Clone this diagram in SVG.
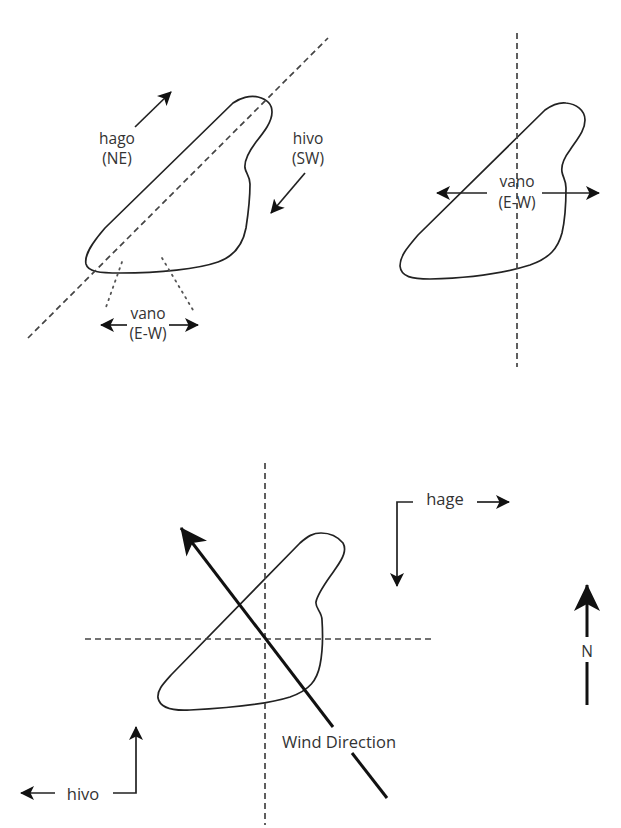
<svg xmlns="http://www.w3.org/2000/svg" width="621" height="828" viewBox="0 0 621 828">
<style>
.bg{fill:#fff}
.outline{fill:none;stroke:#222;stroke-width:1.7;stroke-linejoin:round}
.dash{fill:none;stroke:#444;stroke-width:1.7;stroke-dasharray:6 4}
.dot{fill:none;stroke:#555;stroke-width:1.8;stroke-dasharray:1.5 5;stroke-linecap:round}
.arr{fill:none;stroke:#222;stroke-width:1.7;marker-end:url(#ah)}
.thick{fill:none;stroke:#111;stroke-width:3}
.lbl{font-family:"Open Sans","Liberation Sans",sans-serif;font-size:15.5px;fill:#333;text-anchor:middle}
.big{font-size:16.5px}
</style>
<defs>
<marker id="ah" markerUnits="userSpaceOnUse" markerWidth="16" markerHeight="14" refX="13" refY="7" orient="auto">
<path d="M0,0 L14,7 L0,14 L3.5,7 Z" fill="#111"/>
</marker>
<marker id="big" markerUnits="userSpaceOnUse" markerWidth="30" markerHeight="28" refX="26" refY="14" orient="auto">
<path d="M0,1 L27,14 L0,27 L7,14 Z" fill="#111"/>
</marker>
</defs>
<rect class="bg" x="0" y="0" width="621" height="828"/>

<g id="panel1">
<path class="outline" d="M233,103 C240,98 250,95 258,97 C266,99 272,104 272,112 C272,122 264,132 256,142 C250,150 244,160 245,168 C246,174 250,176 250,184 C250,200 248,215 246,228 C243,244 235,256 218,262 C198,269 160,273 120,273 C100,273 88,272 86,264 C84,255 92,243 105,228 L233,103 Z"/>
<line class="dash" x1="28" y1="338" x2="328" y2="38"/>
<line class="dot" x1="122" y1="262" x2="105" y2="310"/>
<line class="dot" x1="162" y1="258" x2="193" y2="310"/>
</g>

<g id="panel2">
<path class="outline" d="M545,110 C552,105 558,102 566,103 C576,104 585,110 585,120 C585,130 578,138 570,150 C564,158 561,166 562,172 C563,178 566,180 566,188 C566,205 565,220 562,233 C558,248 550,258 530,265 C505,273 470,278 430,279 C412,279 401,277 400,266 C400,256 407,248 418,235 L545,110 Z"/>
<line class="dash" x1="517" y1="33" x2="517" y2="367"/>
</g>

<g id="panel3">
<path class="outline" d="M300,543 C308,536 313,533 321,533 C330,533 338,537 343,543 C347,550 343,558 336,568 C328,580 318,592 316,602 C315,608 322,612 322,620 C323,635 323,650 320,665 C317,680 310,690 290,697 C268,704 230,708 190,710 C172,711 160,708 158,698 C157,690 163,684 172,674 L300,543 Z"/>
<line class="dash" x1="265" y1="463" x2="265" y2="825"/>
<line class="dash" x1="85" y1="639" x2="432" y2="639"/>
</g>

<g id="connectors">
<line class="arr" x1="135" y1="127" x2="171" y2="92"/>
<line class="arr" x1="305" y1="173" x2="271" y2="213"/>
<line class="arr" x1="127" y1="325" x2="101" y2="325"/>
<line class="arr" x1="169" y1="325" x2="198" y2="325"/>
<line class="arr" x1="487" y1="193" x2="437" y2="193"/>
<line class="arr" x1="542" y1="193" x2="599" y2="193"/>
<line class="thick" x1="387" y1="798" x2="352" y2="753"/>
<line class="thick" x1="333" y1="727" x2="181" y2="528" marker-end="url(#big)"/>
<polyline class="arr" points="113,793 136,793 136,727"/>
<line class="arr" x1="55" y1="793" x2="21" y2="793"/>
<polyline class="arr" points="413,502 397,502 397,586"/>
<line class="arr" x1="477" y1="502" x2="509" y2="502"/>
<line class="thick" x1="587" y1="637" x2="587" y2="585" marker-end="url(#big)"/>
<line class="thick" x1="587" y1="662" x2="587" y2="705"/>
</g>

<g id="labels">
<text class="lbl" x="117" y="144">hago</text>
<text class="lbl" x="117" y="164">(NE)</text>
<text class="lbl" x="308" y="144">hivo</text>
<text class="lbl" x="308" y="164">(SW)</text>
<text class="lbl" x="148" y="319">vano</text>
<text class="lbl" x="148" y="339">(E-W)</text>
<text class="lbl" x="517" y="187">vano</text>
<text class="lbl" x="517" y="208">(E-W)</text>
<text class="lbl big" x="339" y="748">Wind Direction</text>
<text class="lbl big" x="83" y="800">hivo</text>
<text class="lbl big" x="445" y="505">hage</text>
<text class="lbl" x="587" y="657">N</text>
</g>
</svg>
